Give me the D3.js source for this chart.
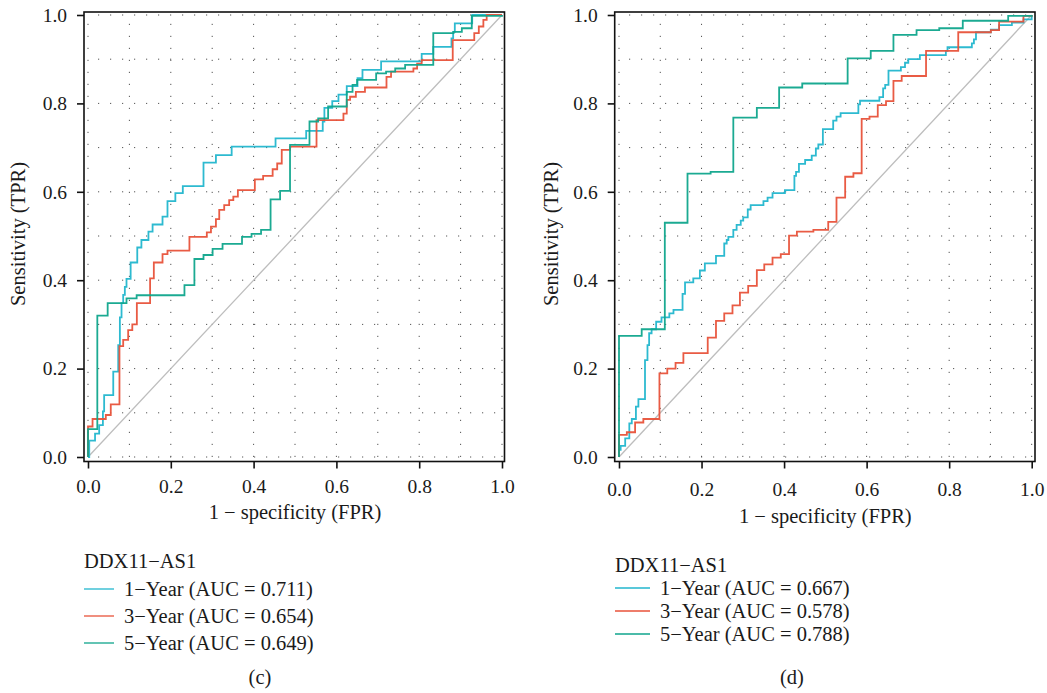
<!DOCTYPE html>
<html>
<head>
<meta charset="utf-8">
<script src="https://cdn.jsdelivr.net/npm/d3@7"></script>
<style>
  body { margin: 0; background: #fff; }
  text { font-family: "Liberation Serif", "DejaVu Serif", serif; fill: #1a1a1a; }
</style>
</head>
<body>
<div id="chart"></div>
<script>
// legend / tick data
let years = ["1\u2212Year", "3\u2212Year", "5\u2212Year"];
let colors = ["#22B6CE", "#E8523A", "#0FA58C"];
let aucC = ["0.711", "0.654", "0.649"];
let aucD = ["0.667", "0.578", "0.788"];
let ticks = [0, 0.2, 0.4, 0.6, 0.8, 1.0];
let gridVals = [0, 0.1, 0.2, 0.3, 0.4, 0.5, 0.6, 0.7, 0.8, 0.9, 1.0];

// panel (c) ROC step points (FPR, TPR)
let cFpr1 = [0, 0.003, 0.017, 0.027, 0.036, 0.039, 0.061, 0.073, 0.077, 0.081, 0.085, 0.089, 0.093, 0.103, 0.119, 0.129, 0.146, 0.156, 0.180, 0.192, 0.211, 0.229, 0.279, 0.309, 0.347, 0.453, 0.527, 0.567, 0.571, 0.59, 0.605, 0.625, 0.651, 0.663, 0.708, 0.806, 0.834, 0.878, 0.882, 0.886, 0.928, 1.0];
let cTpr1 = [0, 0.037, 0.053, 0.072, 0.103, 0.140, 0.193, 0.253, 0.316, 0.348, 0.367, 0.385, 0.403, 0.44, 0.474, 0.491, 0.51, 0.526, 0.544, 0.579, 0.597, 0.613, 0.666, 0.683, 0.702, 0.721, 0.738, 0.759, 0.790, 0.805, 0.82, 0.839, 0.857, 0.876, 0.895, 0.912, 0.928, 0.947, 0.962, 0.981, 1.0, 1.0];
let cFpr3 = [0, 0, 0.011, 0.043, 0.055, 0.076, 0.085, 0.097, 0.107, 0.118, 0.150, 0.159, 0.180, 0.192, 0.245, 0.287, 0.297, 0.309, 0.317, 0.329, 0.341, 0.351, 0.362, 0.403, 0.423, 0.446, 0.457, 0.468, 0.488, 0.552, 0.617, 0.625, 0.633, 0.647, 0.669, 0.721, 0.732, 0.786, 0.795, 0.806, 0.881, 0.933, 0.944, 0.955, 0.963, 1.0];
let cTpr3 = [0, 0.069, 0.086, 0.095, 0.119, 0.251, 0.265, 0.287, 0.30, 0.348, 0.404, 0.44, 0.459, 0.467, 0.498, 0.508, 0.521, 0.538, 0.559, 0.57, 0.581, 0.589, 0.604, 0.628, 0.636, 0.651, 0.664, 0.695, 0.702, 0.762, 0.777, 0.808, 0.815, 0.826, 0.836, 0.86, 0.872, 0.879, 0.89, 0.898, 0.943, 0.959, 0.974, 0.989, 1.0, 1.0];
let cFpr5 = [0, 0, 0.0225, 0.0475, 0.093, 0.1175, 0.233, 0.257, 0.279, 0.301, 0.325, 0.372, 0.395, 0.418, 0.441, 0.464, 0.488, 0.535, 0.556, 0.580, 0.625, 0.639, 0.650, 0.696, 0.720, 0.742, 0.766, 0.834, 0.883, 0.903, 0.927, 1.0];
let cTpr5 = [0, 0.063, 0.32, 0.348, 0.359, 0.366, 0.389, 0.448, 0.457, 0.471, 0.482, 0.498, 0.505, 0.514, 0.583, 0.602, 0.706, 0.759, 0.766, 0.793, 0.826, 0.842, 0.853, 0.868, 0.872, 0.879, 0.887, 0.959, 0.962, 0.970, 0.998, 1.0];

// panel (d) ROC step points (FPR, TPR)
let dFpr1 = [0, 0, 0.004, 0.015, 0.025, 0.031, 0.041, 0.047, 0.063, 0.069, 0.073, 0.079, 0.090, 0.103, 0.122, 0.132, 0.154, 0.160, 0.180, 0.196, 0.208, 0.235, 0.255, 0.261, 0.265, 0.277, 0.285, 0.295, 0.301, 0.312, 0.319, 0.350, 0.360, 0.372, 0.402, 0.425, 0.429, 0.436, 0.451, 0.467, 0.477, 0.483, 0.494, 0.519, 0.527, 0.537, 0.580, 0.584, 0.631, 0.640, 0.645, 0.653, 0.683, 0.693, 0.701, 0.729, 0.792, 0.796, 0.855, 0.860, 0.865, 0.901, 0.921, 0.952, 0.980, 1.0];
let dTpr1 = [0, 0.016, 0.025, 0.042, 0.076, 0.086, 0.114, 0.131, 0.219, 0.253, 0.28, 0.289, 0.306, 0.316, 0.325, 0.333, 0.369, 0.395, 0.404, 0.422, 0.438, 0.455, 0.483, 0.491, 0.498, 0.514, 0.525, 0.535, 0.542, 0.56, 0.57, 0.579, 0.587, 0.597, 0.604, 0.636, 0.645, 0.663, 0.672, 0.682, 0.698, 0.707, 0.742, 0.761, 0.77, 0.778, 0.798, 0.806, 0.814, 0.834, 0.842, 0.874, 0.882, 0.892, 0.90, 0.909, 0.919, 0.927, 0.936, 0.945, 0.961, 0.967, 0.977, 0.983, 0.99, 1.0];
let dFpr3 = [0, 0, 0.019, 0.039, 0.059, 0.098, 0.117, 0.137, 0.156, 0.215, 0.235, 0.255, 0.275, 0.293, 0.313, 0.334, 0.352, 0.372, 0.392, 0.412, 0.431, 0.471, 0.507, 0.527, 0.548, 0.568, 0.588, 0.607, 0.627, 0.647, 0.665, 0.685, 0.744, 0.822, 0.901, 0.921, 0.980, 1.0];
let dTpr3 = [0, 0.05, 0.056, 0.078, 0.086, 0.189, 0.20, 0.213, 0.235, 0.27, 0.308, 0.325, 0.343, 0.372, 0.387, 0.423, 0.436, 0.451, 0.459, 0.501, 0.51, 0.514, 0.532, 0.587, 0.634, 0.642, 0.765, 0.77, 0.796, 0.805, 0.851, 0.862, 0.919, 0.961, 0.966, 0.985, 0.998, 1.0];
let dFpr5 = [0, 0, 0.055, 0.111, 0.166, 0.222, 0.277, 0.334, 0.388, 0.444, 0.554, 0.610, 0.665, 0.721, 0.776, 0.833, 0.943, 1.0];
let dTpr5 = [0, 0.274, 0.289, 0.530, 0.641, 0.645, 0.768, 0.790, 0.836, 0.845, 0.902, 0.919, 0.955, 0.966, 0.97, 0.987, 0.998, 1.0];

let svg = d3.select("#chart").append("svg")
  .attr("width", 1047)
  .attr("height", 693);

let tickFont = "19.5px";
let labelFont = "20.5px";

function drawPanel(p) {
  let x = d3.scaleLinear().domain([0, 1]).range([p.x0, p.x1]);
  let y = d3.scaleLinear().domain([0, 1]).range([457, 15]);
  let g = svg.append("g");

  // dotted grid
  g.selectAll(".gx").data(gridVals).enter().append("line")
    .attr("x1", d => x(d)).attr("x2", d => x(d))
    .attr("y1", y(0)).attr("y2", y(1))
    .attr("stroke", "#555").attr("stroke-width", 1)
    .attr("stroke-dasharray", "1.2,10.8");
  g.selectAll(".gy").data(gridVals).enter().append("line")
    .attr("x1", x(0) + 10).attr("x2", x(1))
    .attr("y1", d => y(d)).attr("y2", d => y(d))
    .attr("stroke", "#555").attr("stroke-width", 1)
    .attr("stroke-dasharray", "1.2,10.8");

  // reference diagonal
  g.append("line")
    .attr("x1", x(0)).attr("y1", y(0))
    .attr("x2", x(1)).attr("y2", y(1))
    .attr("stroke", "#bdbdbd").attr("stroke-width", 1.3);

  let line = d3.line()
    .x(d => x(d[0]))
    .y(d => y(d[1]))
    .curve(d3.curveStepAfter);

  p.curves.forEach(function(c, i) {
    g.append("path")
      .datum(d3.zip(c[0], c[1]))
      .attr("d", line)
      .attr("fill", "none")
      .attr("stroke", colors[i])
      .attr("stroke-width", 1.8)
      .attr("stroke-opacity", 0.95);
  });

  // box
  g.append("rect")
    .attr("x", p.boxL).attr("y", 12)
    .attr("width", p.boxR - p.boxL).attr("height", 449.5)
    .attr("fill", "none").attr("stroke", "#111").attr("stroke-width", 1.6);

  // axes
  let bottom = g.append("g")
    .attr("transform", "translate(0,461.5)")
    .call(d3.axisBottom(x).tickValues(ticks).tickFormat(d3.format(".1f")).tickSize(7));
  bottom.select(".domain").remove();
  bottom.selectAll("line").attr("stroke", "#111").attr("stroke-width", 1.6);
  bottom.selectAll("text")
    .attr("dy", null).attr("y", p.tickY)
    .style("font-size", tickFont)
    .style("font-family", "Liberation Serif");

  let left = g.append("g")
    .attr("transform", `translate(${p.boxL},0)`)
    .call(d3.axisLeft(y).tickValues(ticks).tickFormat(d3.format(".1f")).tickSize(7).tickPadding(10));
  left.select(".domain").remove();
  left.selectAll("line").attr("stroke", "#111").attr("stroke-width", 1.6);
  left.selectAll("text")
    .style("font-size", tickFont)
    .style("font-family", "Liberation Serif");

  // axis titles
  g.append("text")
    .attr("x", (p.x0 + p.x1) / 2).attr("y", p.titleY)
    .attr("text-anchor", "middle")
    .style("font-size", labelFont)
    .text("1 \u2212 specificity (FPR)");

  g.append("text")
    .attr("transform", `translate(${p.ytX},234) rotate(-90)`)
    .attr("text-anchor", "middle")
    .style("font-size", labelFont)
    .text("Sensitivity (TPR)");

  // legend
  g.append("text")
    .attr("x", p.legX).attr("y", p.legTitleY)
    .style("font-size", labelFont)
    .text("DDX11\u2212AS1");

  years.forEach(function(yr, i) {
    let ly = p.legY0 + i * p.legStep;
    g.append("line")
      .attr("x1", p.legX).attr("x2", p.legX + p.legLen)
      .attr("y1", ly).attr("y2", ly)
      .attr("stroke", colors[i]).attr("stroke-width", 1.3);
    g.append("text")
      .attr("x", p.legX + p.legLen + 10).attr("y", ly + 6.5)
      .style("font-size", labelFont)
      .text(`${yr} (AUC = ${p.auc[i]})`);
  });

  g.append("text")
    .attr("x", p.capX).attr("y", 684)
    .attr("text-anchor", "middle")
    .style("font-size", labelFont)
    .text(p.caption);
}

drawPanel({
  x0: 88, x1: 502, boxL: 84, boxR: 504.5,
  tickY: 31, titleY: 519, ytX: 25,
  legX: 84, legLen: 30, legTitleY: 567.5, legY0: 589, legStep: 27,
  auc: aucC, capX: 260, caption: "(c)",
  curves: [[cFpr1, cTpr1], [cFpr3, cTpr3], [cFpr5, cTpr5]]
});

drawPanel({
  x0: 619, x1: 1031.7, boxL: 614.7, boxR: 1035,
  tickY: 34.5, titleY: 523, ytX: 558,
  legX: 615, legLen: 35, legTitleY: 572, legY0: 588, legStep: 23,
  auc: aucD, capX: 792, caption: "(d)",
  curves: [[dFpr1, dTpr1], [dFpr3, dTpr3], [dFpr5, dTpr5]]
});
</script>
</body>
</html>
